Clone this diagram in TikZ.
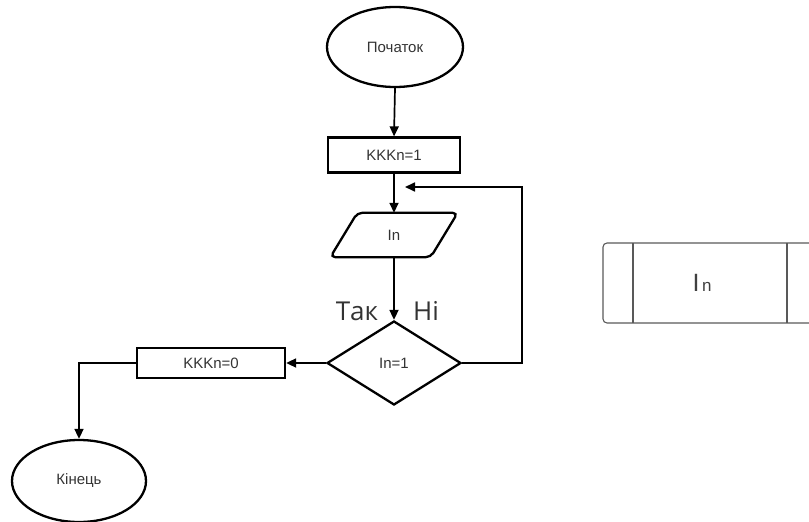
\documentclass[tikz,border=0pt]{standalone}
\usepackage{fontspec}
\setmainfont{Liberation Sans}
\newfontfamily\labelfont{Open Sans}
\usetikzlibrary{shapes.geometric,arrows.meta}
\begin{document}
\begin{tikzpicture}[x=1pt,y=-1pt,
  every node/.style={font=\fontsize{15}{17}\selectfont, text=black!80},
  term/.style={draw=black, line width=2.3pt, ellipse, minimum width=136pt, minimum height=80pt, inner sep=0pt},
  procbox/.style={draw=black, line width=2.3pt, rectangle, inner sep=0pt},
  iobox/.style={rectangle, minimum width=100pt, minimum height=44pt, inner sep=0pt},
  decision/.style={draw=black, line width=2.3pt, diamond, minimum width=134pt, minimum height=84pt, inner sep=0pt},
  flow/.style={line width=1.7pt, -{Triangle[length=10pt,width=9pt]}},
  branch/.style={font=\labelfont\fontsize{26}{28}\selectfont, text=black!80}
]
\useasboundingbox (0,0) rectangle (809,522);

% main flow
\node[term] (start) at (395,47) {Початок};
\node[procbox, minimum width=132pt, minimum height=35pt] (init) at (394,155) {KKKn=1};
\node[iobox] (input) at (394,235) {In};
\draw[line width=2.3pt, rounded corners=5pt]
  ([xshift=13.5pt]input.north west) -- ([xshift=13.5pt]input.north east)
  -- ([xshift=-13.5pt]input.south east) -- ([xshift=-13.5pt]input.south west) -- cycle;
\node[decision] (cond) at (394,363) {In=1};
\node[procbox, minimum width=148pt, minimum height=30pt] (reset) at (211,363) {KKKn=0};
\node[term, minimum width=134pt, minimum height=82pt] (finish) at (79,481) {Кінець};

\node[branch] (yes) at (357,311) {Так};
\node[branch] (no) at (426,311) {Ні};

\draw[flow] (start.south) -- (init.north);
\draw[flow] (init.south) -- (input.north);
\draw[flow] (input.south) -- (cond.north);
\draw[flow] (cond.west) -- (reset.east);
\draw[flow] (reset.west) -| (finish.north);

% loop back above the input block
\coordinate (loopend) at (405,187);
\draw[flow] (cond.east) -- (522,363) |- (loopend);

% memory cell on the right
\begin{scope}
  \clip (595,230) rectangle (809,340);
  \draw[black!65, line width=1.1pt, rounded corners=4pt]
    (830,243) -- (603,243) -- (603,323) -- (830,323);
  \draw[black!65, line width=1.1pt] (633,243) -- (633,323) (787,243) -- (787,323);
\end{scope}
\node[text=black!75, inner sep=0pt] (cell) at (702,283)
  {{\fontsize{25}{27}\selectfont I}\,{\fontsize{17}{19}\selectfont n}};
\end{tikzpicture}
\end{document}
